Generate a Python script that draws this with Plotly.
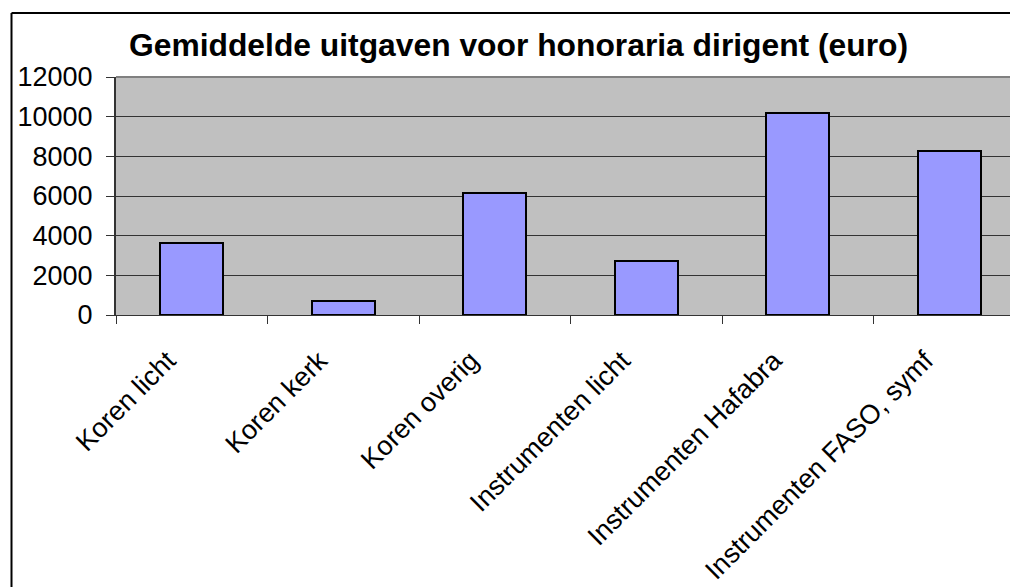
import plotly.graph_objects as go

categories = ["Koren licht", "Koren kerk", "Koren overig",
              "Instrumenten licht", "Instrumenten Hafabra", "Instrumenten FASO, symf"]
values = [3620, 700, 6160, 2730, 10190, 8280]
y_ticks = [0, 2000, 4000, 6000, 8000, 10000, 12000]

W, H = 1010, 587
L, R, T, B = 116, 0, 77, 272
plot_w = W - L - R
plot_h = H - T - B
cat_px = 151.5

FONT = "Liberation Sans, Arial, sans-serif"

fig = go.Figure(go.Bar(
    x=categories, y=values,
    width=0.416,
    marker=dict(color="#9999FF", line=dict(color="black", width=2)),
))

border_x = (11.5 - L) / plot_w
border_y = 1 + (T - 13) / plot_h

fig.update_layout(
    width=W, height=H,
    margin=dict(l=L, r=R, t=T, b=B, autoexpand=False),
    paper_bgcolor="white",
    plot_bgcolor="#C0C0C0",
    showlegend=False,
    bargap=0,
    font=dict(family=FONT, color="black"),
    xaxis=dict(
        type="category",
        range=[-0.5, -0.5 + plot_w / cat_px],
        tickangle=-45,
        tickfont=dict(size=27, family=FONT, color="black"),
        ticks="outside", ticklen=8, tickcolor="#333333", tickwidth=1,
        tickson="boundaries",
        showline=True, linecolor="#333333", linewidth=1,
        showgrid=False, zeroline=False,
        ticklabelstandoff=18,
        ticklabelshift=-24,
    ),
    yaxis=dict(
        range=[0, 12000],
        tickvals=y_ticks,
        ticktext=[str(v) for v in y_ticks],
        tickfont=dict(size=27, family=FONT, color="black"),
        ticks="outside", ticklen=8, tickcolor="#333333", tickwidth=1,
        showline=True, linecolor="#333333", linewidth=2,
        showgrid=True, gridcolor="#333333", gridwidth=1,
        zeroline=False,
        ticklabelstandoff=8,
    ),
    annotations=[dict(
        text="<b>Gemiddelde uitgaven voor honoraria dirigent (euro)</b>",
        xref="paper", yref="paper",
        x=(518 - L) / plot_w, y=1 + (T - 45) / plot_h,
        xanchor="center", yanchor="middle",
        showarrow=False,
        font=dict(size=31.8, family=FONT, color="black"),
    )],
    shapes=[
        dict(type="line", xref="paper", yref="paper", x0=0, x1=1, y0=1, y1=1,
             line=dict(color="#808080", width=2), layer="above"),
        dict(type="line", xref="paper", yref="paper",
             x0=border_x, x1=border_x, y0=-1.5, y1=border_y,
             line=dict(color="black", width=2), layer="above"),
        dict(type="line", xref="paper", yref="paper",
             x0=border_x, x1=1.05, y0=border_y, y1=border_y,
             line=dict(color="black", width=2), layer="above"),
    ],
)

fig.write_html(
    "out.html",
    config={"displayModeBar": False},
    post_script=(
        "document.documentElement.style.margin='0';"
        "document.documentElement.style.overflow='hidden';"
        "document.body.style.margin='0';"
        "document.body.style.overflow='hidden';"
    ),
)
